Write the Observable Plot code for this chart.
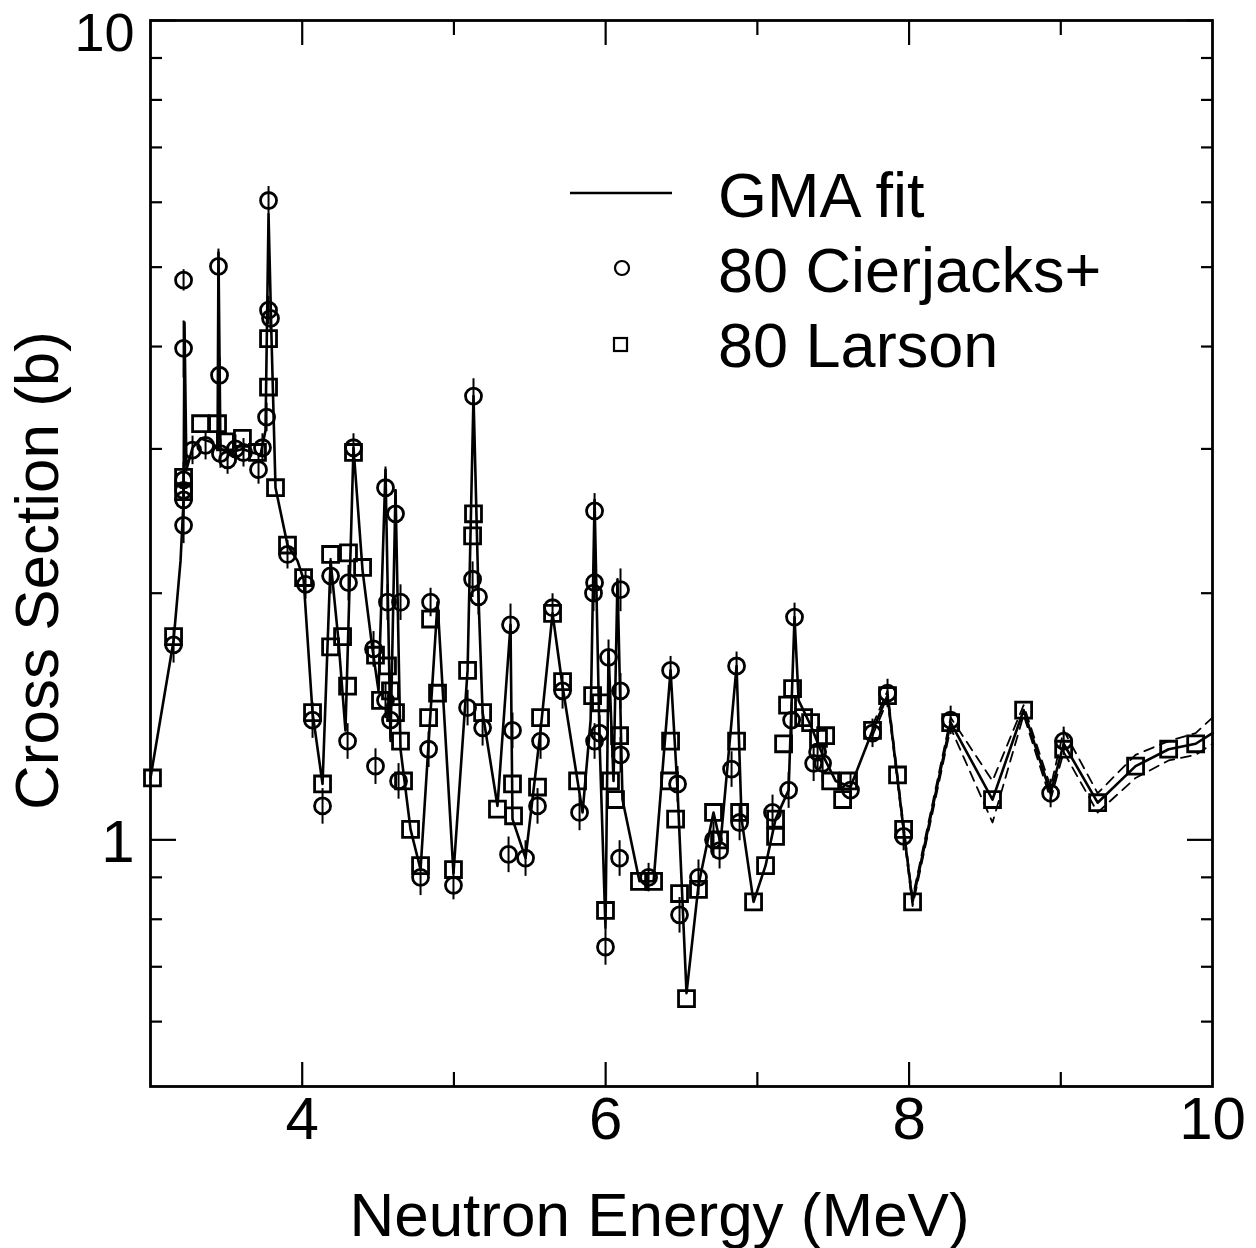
<!DOCTYPE html>
<html><head><meta charset="utf-8">
<script src="https://cdn.jsdelivr.net/npm/d3@7"></script>
<script src="https://cdn.jsdelivr.net/npm/@observablehq/plot@0.6"></script>
<style>
body{margin:0;background:#fff;}
#chart{width:1256px;height:1248px;}
</style></head><body><div id="chart"></div>
<script>
// GMA fit (energy in MeV, cross section in b)
const fitE = [3.000,3.152,3.198,3.218,3.224,3.237,3.277,3.330,3.396,3.442,3.448,3.461,3.527,3.606,3.672,3.725,3.758,3.778,3.798,3.824,3.903,3.969,4.009,4.068,4.134,4.187,4.239,4.285,4.338,4.398,4.463,4.503,4.549,4.582,4.615,4.648,4.714,4.780,4.892,4.997,5.090,5.129,5.162,5.189,5.287,5.373,5.386,5.472,5.571,5.650,5.716,5.815,5.848,5.901,5.927,5.960,5.999,6.019,6.052,6.078,6.111,6.223,6.316,6.428,6.474,6.533,6.612,6.711,6.757,6.863,6.896,6.975,7.054,7.120,7.206,7.245,7.272,7.351,7.430,7.516,7.614,7.759,7.858,7.964,8.023,8.274,8.550,8.755,8.933,9.019,9.243,9.493,9.711,9.889,10.000];
const fitXS = [1.19,1.75,2.19,2.60,4.28,2.83,3.01,3.09,3.06,3.01,5.21,3.00,2.97,3.00,2.97,2.95,3.16,5.80,4.07,2.69,2.29,2.19,2.08,1.43,1.17,2.19,1.75,1.36,3.01,2.13,1.71,1.52,2.83,1.32,2.67,1.29,1.03,0.92,1.95,0.91,1.61,3.48,1.98,1.43,1.10,1.83,1.06,0.95,1.36,1.89,1.54,1.18,1.08,1.40,2.60,1.32,0.78,1.70,1.18,2.08,1.12,0.89,0.89,1.61,1.15,0.65,0.88,1.08,0.99,1.63,1.06,0.84,0.93,1.06,1.15,1.87,1.48,1.38,1.27,1.18,1.16,1.36,1.50,1.03,0.84,1.39,1.12,1.44,1.14,1.31,1.11,1.23,1.29,1.31,1.35];
// fit uncertainty band (dashed), where it separates from the fit
const bandE  = [7.759,7.858,7.964,8.023,8.274,8.550,8.755,8.933,9.019,9.243,9.493,9.711,9.889,10.000];
const bandHi = [1.38,1.52,1.04,0.85,1.41,1.18,1.46,1.16,1.36,1.14,1.27,1.32,1.35,1.41];
const bandLo = [1.34,1.48,1.02,0.83,1.37,1.05,1.42,1.12,1.28,1.08,1.19,1.25,1.27,1.31];
// 80 Cierjacks+ (circles), with relative error bars in %
const cierE = [3.218,3.218,3.218,3.218,3.218,3.218,3.152,3.448,3.455,3.277,3.363,3.461,3.508,3.560,3.613,3.712,3.778,3.778,3.791,3.765,3.738,3.903,4.022,4.068,4.134,4.187,4.305,4.299,4.338,4.470,4.549,4.615,4.562,4.648,4.549,4.582,4.483,4.635,4.780,4.846,4.833,4.997,5.090,5.189,5.129,5.123,5.162,5.373,5.386,5.360,5.472,5.571,5.551,5.650,5.716,5.828,5.927,5.927,5.920,5.927,5.960,6.019,6.098,6.098,6.098,6.092,5.999,6.283,6.428,6.474,6.487,6.612,6.751,6.711,6.863,6.830,6.883,7.100,7.206,7.245,7.226,7.371,7.430,7.397,7.614,7.759,7.858,7.964,8.274,8.933,9.019];
const cierXS = [4.82,3.98,2.75,2.67,2.60,2.42,1.73,5.01,3.69,2.99,3.03,2.96,2.91,3.00,2.97,2.83,6.03,4.43,4.33,3.28,3.01,2.23,2.05,1.40,1.10,2.10,2.06,1.32,3.01,1.71,2.69,2.50,1.95,1.95,1.48,1.40,1.23,1.18,0.90,1.95,1.29,0.88,1.45,1.37,3.48,2.08,1.98,1.83,1.36,0.96,0.95,1.32,1.10,1.92,1.52,1.08,2.52,2.06,2.00,1.32,1.35,1.67,2.02,1.52,1.27,0.95,0.74,0.90,1.61,1.17,0.81,0.90,0.97,1.00,1.63,1.22,1.05,1.08,1.15,1.87,1.40,1.24,1.24,1.28,1.15,1.35,1.51,1.01,1.40,1.14,1.32];
const cierErr = [3,8,5,5,5,5,5,5,5,4,4,4,4,4,4,4,4,4,4,4,4,4,4,5,5,5,5,5,4,5,6,7,5,5,5,5,5,5,5,4,5,4,5,5,5,5,5,6,5,5,5,5,5,4,5,5,5,5,5,5,5,5,6,5,5,5,5,4,4,5,5,5,5,5,4,5,5,5,5,4,5,5,5,5,5,4,4,4,4,4,4];
// 80 Larson (squares)
const larsE = [3.013,3.152,3.218,3.218,3.330,3.442,3.494,3.606,3.705,3.778,3.778,3.824,3.903,4.009,4.068,4.134,4.187,4.305,4.398,4.187,4.266,4.299,4.338,4.483,4.562,4.516,4.582,4.615,4.648,4.668,4.714,4.780,4.846,4.833,4.892,4.997,5.090,5.129,5.123,5.189,5.287,5.386,5.393,5.571,5.551,5.650,5.716,5.815,5.914,5.966,6.092,5.999,6.032,6.065,6.223,6.316,6.428,6.421,6.461,6.487,6.612,6.533,6.711,6.751,6.863,6.883,6.975,7.054,7.120,7.120,7.232,7.199,7.173,7.305,7.351,7.403,7.450,7.483,7.601,7.562,7.759,7.858,7.924,7.964,8.023,8.274,8.550,8.755,9.019,9.243,9.493,9.711,9.889];
const larsXS = [1.19,1.77,2.77,2.66,3.22,3.22,3.06,3.09,2.97,4.09,3.57,2.69,2.29,2.09,1.43,1.17,2.23,2.24,2.15,1.72,1.77,1.54,2.97,1.68,1.63,1.48,1.52,1.43,1.32,1.18,1.03,0.93,1.86,1.41,1.51,0.92,1.61,2.50,2.35,1.43,1.09,1.17,1.07,1.41,1.16,1.89,1.56,1.18,1.50,1.47,1.34,0.82,1.18,1.12,0.89,0.89,1.32,1.18,1.06,0.86,0.87,0.64,1.08,1.00,1.32,1.08,0.84,0.93,1.06,1.01,1.53,1.46,1.31,1.41,1.39,1.33,1.34,1.18,1.18,1.12,1.36,1.50,1.20,1.03,0.84,1.39,1.12,1.44,1.29,1.11,1.23,1.29,1.31];
// axes
const xLabelTicks = [4,6,8,10];
const xMajorTicks = [4,6,8];
const xMinorTicks = [5,7,9];
const yMajorTicks = [1,10];
const yMinorTicks = [0.6,0.7,0.8,0.9,2,3,4,5,6,7,8,9];
const xTitle = "Neutron Energy (MeV)";
const yTitle = "Cross Section (b)";
const legendLabels = ["GMA fit","80 Cierjacks+","80 Larson"];

const fit = fitE.map((e,i)=>({e, s: fitXS[i]}));
const band = bandE.map((e,i)=>({e, hi: bandHi[i], lo: bandLo[i]}));
const cier = cierE.map((e,i)=>({e, s: cierXS[i], lo: cierXS[i]*(1-cierErr[i]/100), hi: cierXS[i]*(1+cierErr[i]/100)}));
const lars = larsE.map((e,i)=>({e, s: larsXS[i]}));

const font = "'Liberation Sans', Arial, Helvetica, sans-serif";
const tk = {stroke:"black", strokeWidth:2.2, fill:"none", label:null};
const lab = {anchor:"left", tickSize:0, tickPadding:16, tickFormat:d=>String(d), fill:"black", label:null};
const plot = Plot.plot({
  width:1256, height:1248,
  marginLeft:150, marginRight:44, marginTop:20, marginBottom:162,
  style:{fontFamily:font, background:"white", color:"black"},
  x:{domain:[3,10]},
  y:{type:"log", domain:[0.5,10]},
  marks:[
    Plot.line(band, {x:"e", y:"hi", stroke:"black", strokeWidth:1.8, strokeDasharray:"10,7"}),
    Plot.line(band, {x:"e", y:"lo", stroke:"black", strokeWidth:1.8, strokeDasharray:"10,7"}),
    Plot.line(fit, {x:"e", y:"s", stroke:"black", strokeWidth:2.6}),
    Plot.ruleX(cier, {x:"e", y1:"lo", y2:"hi", stroke:"black", strokeWidth:2}),
    Plot.dot(cier, {x:"e", y:"s", r:8, stroke:"black", strokeWidth:2.8, fill:"none"}),
    Plot.dot(lars, {x:"e", y:"s", r:9, symbol:"square", stroke:"black", strokeWidth:2.8, fill:"none"}),
    Plot.frame({stroke:"black", strokeWidth:2.8}),
    Plot.axisY({...tk, anchor:"left", ticks:yMinorTicks, tickSize:-12}),
    Plot.axisY({...tk, anchor:"right", ticks:yMinorTicks, tickSize:-12}),
    Plot.axisY({...tk, anchor:"left", ticks:yMajorTicks, tickSize:-26}),
    Plot.axisY({...tk, anchor:"right", ticks:yMajorTicks, tickSize:-26}),
    Plot.axisX({...tk, anchor:"bottom", ticks:xMinorTicks, tickSize:-14}),
    Plot.axisX({...tk, anchor:"top", ticks:xMinorTicks, tickSize:-14}),
    Plot.axisX({...tk, anchor:"bottom", ticks:xMajorTicks, tickSize:-24}),
    Plot.axisX({...tk, anchor:"top", ticks:xMajorTicks, tickSize:-24}),
    Plot.axisY({...lab, ticks:[yMajorTicks[0]], dy:3, fontSize:60}),
    Plot.axisY({...lab, ticks:[yMajorTicks[1]], dy:13, fontSize:54}),
    Plot.axisX({anchor:"bottom", ticks:xLabelTicks, tickSize:0, tickPadding:10, tickFormat:d=>String(d), fontSize:60, fill:"black", label:null}),
    Plot.text([xTitle], {text:d=>d, frameAnchor:"bottom", textAnchor:"middle", lineAnchor:"middle", dx:-22, dy:130, fontSize:62, fill:"black"}),
    Plot.text([yTitle], {text:d=>d, frameAnchor:"left", textAnchor:"middle", lineAnchor:"middle", rotate:-90, dx:-112, dy:17, fontSize:62, fill:"black"})
  ]
});
document.getElementById("chart").appendChild(plot);

// legend (inside the frame)
const svg = d3.select(plot);
const lg = svg.append("g").attr("font-family", font).attr("font-size", 63).attr("fill", "black").attr("text-anchor", "start");
lg.append("line").attr("x1",570).attr("x2",672).attr("y1",193).attr("y2",193).attr("stroke","black").attr("stroke-width",2.4);
lg.append("circle").attr("cx",622).attr("cy",268).attr("r",7).attr("fill","none").attr("stroke","black").attr("stroke-width",2.2);
lg.append("rect").attr("x",614).attr("y",338).attr("width",13).attr("height",13).attr("fill","none").attr("stroke","black").attr("stroke-width",2.2);
const ly = [195, 270, 345];
legendLabels.forEach((t,i)=>{
  lg.append("text").attr("x",718).attr("y",ly[i]).attr("dy","0.35em").attr("text-anchor","start").text(t);
});
</script></body></html>
